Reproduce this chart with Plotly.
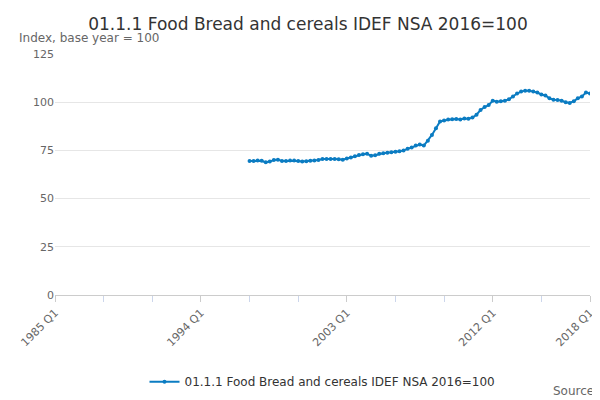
import plotly.graph_objects as go

start_year = 1997
values = [
    69.5, 69.5, 69.8, 69.6,
    68.8, 69.2, 70.0, 70.2,
    69.5, 69.5, 69.8, 69.7,
    69.5, 69.3, 69.4, 69.6,
    69.8, 70.0, 70.5, 70.6,
    70.6, 70.5, 70.4, 70.2,
    70.8, 71.3, 72.0, 72.6,
    73.0, 73.2, 72.2, 72.5,
    73.2, 73.5, 73.8, 74.0,
    74.3, 74.6, 75.0, 75.8,
    76.5, 77.5, 78.0, 77.5,
    80.0, 83.0, 86.5, 90.0,
    90.5, 91.0, 91.2, 91.3,
    91.0, 91.5, 91.4, 92.0,
    93.5, 96.0, 97.5, 98.5,
    100.8, 100.2, 100.5, 100.8,
    101.5, 103.0, 104.5, 105.5,
    106.0, 106.0, 105.5, 105.0,
    104.0, 103.5, 102.0, 101.3,
    101.2, 100.8, 100.0, 99.6,
    100.5, 102.0, 103.0, 105.0,
    104.5,
]
labels = [f"{start_year + i // 4} Q{i % 4 + 1}" for i in range(len(values))]
x = [int(l[:4]) + (int(l[-1]) - 1) / 4 for l in labels]

tick_labels = ["1985 Q1", "1994 Q1", "2003 Q1", "2012 Q1", "2018 Q1"]
tick_vals = [int(t[:4]) for t in tick_labels]
name = "01.1.1 Food Bread and cereals IDEF NSA 2016=100"

fig = go.Figure(go.Scatter(
    x=x, y=values, name=name, mode="lines+markers", text=labels,
    line=dict(color="#0b7cc2", width=2), marker=dict(size=4, color="#0b7cc2"),
))
fig.update_layout(
    width=600, height=400, plot_bgcolor="white", paper_bgcolor="white",
    font=dict(family="DejaVu Sans", color="#333"),
    title=dict(text=name, x=0.5, y=0.975, font=dict(size=17)),
    margin=dict(l=47, r=18, t=46, b=103),
    showlegend=True,
    legend=dict(orientation="h", x=0.5, xanchor="center", y=-0.3, font=dict(size=12)),
    annotations=[
        dict(text="Index, base year = 100", x=0, y=1.03, xref="paper", yref="paper",
             xshift=-38, xanchor="left", yanchor="bottom", showarrow=False,
             font=dict(size=12, color="#666")),
        dict(text="Source:", x=1, y=-0.36, xref="paper", yref="paper", xshift=10,
             xanchor="right", yanchor="top", showarrow=False, font=dict(size=12, color="#666")),
    ],
)
fig.update_xaxes(range=[1985, 2018], tickvals=tick_vals, ticktext=tick_labels,
                 tickangle=-45, showgrid=False, showline=True, linecolor="#ccc",
                 ticks="outside", tickcolor="#ccc", ticklen=6, automargin=False,
                 minor=dict(dtick=3, tick0=1985, ticks="outside", ticklen=6, tickcolor="#ccd6eb"),
                 tickfont=dict(size=11, color="#666"))
fig.update_yaxes(range=[0, 125], dtick=25, gridcolor="#e6e6e6", zeroline=False,
                 automargin=False, tickfont=dict(size=11, color="#666"))
fig.write_html("out.html")
